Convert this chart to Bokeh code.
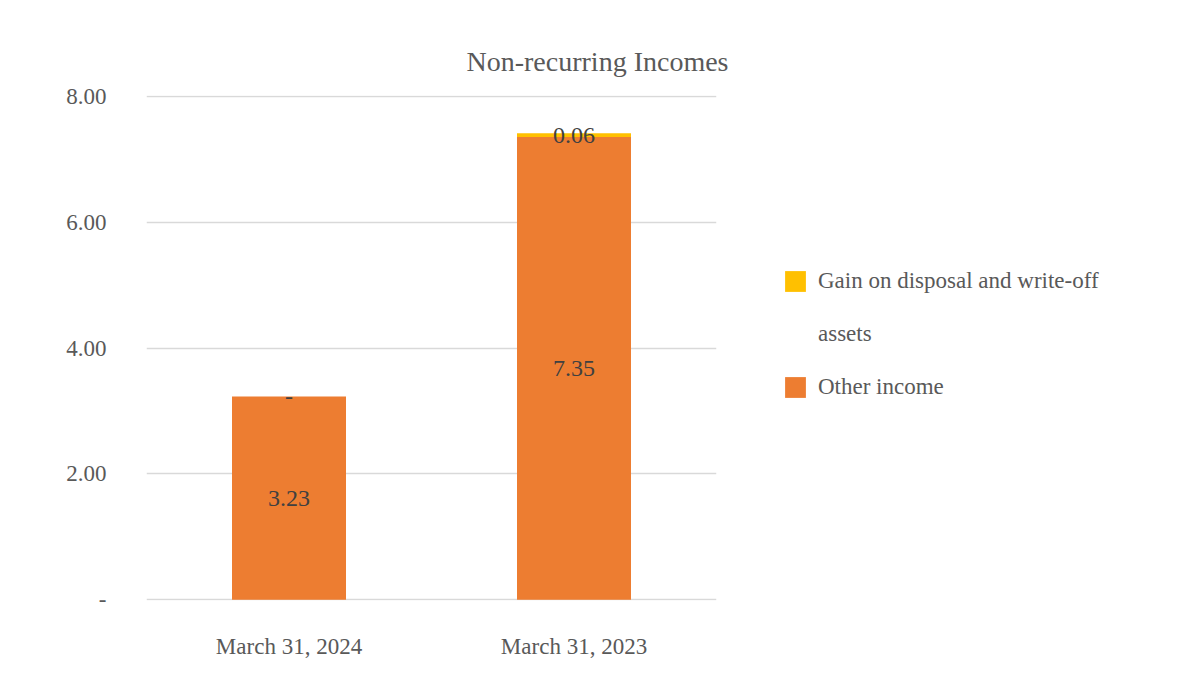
from bokeh.plotting import figure
from bokeh.models import (ColumnDataSource, Legend, LegendItem, FixedTicker,
                          CustomJSTickFormatter, Range1d, LabelSet, Title)
from bokeh.core.properties import value
from bokeh.embed import file_html
from bokeh.resources import INLINE

# ---- data ----
periods = ["March 31, 2024", "March 31, 2023"]
other_income = [3.23, 7.35]
gain_disposal = [0.0, 0.06]
title_text = "Non-recurring Incomes"
y_ticks = [0, 2, 4, 6, 8]

ORANGE = "#ED7D31"
YELLOW = "#FFC000"
TEXT = "#595959"
FONT = "Liberation Serif"

src = ColumnDataSource(dict(period=periods, other=other_income, gain=gain_disposal))

p = figure(x_range=periods, y_range=Range1d(-0.01, 8.01),
           frame_width=570, frame_height=505,
           output_backend="svg", toolbar_location=None,
           min_border_left=146, min_border_top=95, min_border_bottom=71,
           min_border_right=461)
p.outline_line_color = None
p.background_fill_color = "white"
p.border_fill_color = "white"

rs = p.vbar_stack(["other", "gain"], x="period", width=0.4, source=src,
                  color=[ORANGE, YELLOW], line_color=None)

# value labels, centred in each segment
lab_x, lab_y, lab_t = [], [], []
for i, per in enumerate(periods):
    b = 0.0
    for v in (other_income[i], gain_disposal[i]):
        lab_x.append(per)
        lab_y.append(b + v / 2)
        lab_t.append("-" if v == 0 else f"{v:.2f}")
        b += v
lsrc = ColumnDataSource(dict(x=lab_x, y=lab_y, t=lab_t))
p.add_layout(LabelSet(x="x", y="y", text="t", source=lsrc, text_align="center",
                      text_baseline="middle", text_font=value(FONT),
                      text_font_size="24px", text_color="#404040"))

# axes
p.yaxis.ticker = FixedTicker(ticks=y_ticks)
p.yaxis.formatter = CustomJSTickFormatter(code='return tick == 0 ? "-" : tick.toFixed(2);')
for ax in (p.xaxis[0], p.yaxis[0]):
    ax.axis_line_color = None
    ax.major_tick_line_color = None
    ax.minor_tick_line_color = None
    ax.major_label_text_font = FONT
    ax.major_label_text_color = TEXT
p.yaxis.major_label_text_font_size = "23px"
p.yaxis.major_label_standoff = 34
p.xaxis.major_label_text_font_size = "23px"
p.xaxis.major_label_standoff = 27

p.xgrid.grid_line_color = None
p.ygrid.grid_line_color = "#d9d9d9"
p.ygrid.grid_line_width = 1.3

# title, centred over the whole chart area
p.add_layout(Title(text=title_text, align="left", offset=320, standoff=38,
                   text_font=FONT, text_font_size="28px", text_font_style="normal",
                   text_color=TEXT), "above")

# legend (long label wrapped onto a second row)
blank = p.vbar(x=[], top=[], width=0.4, fill_alpha=0, line_alpha=0)
legend = Legend(items=[
    LegendItem(label="Gain on disposal and write-off", renderers=[rs[1]]),
    LegendItem(label="assets", renderers=[blank]),
    LegendItem(label="Other income", renderers=[rs[0]]),
], location=(66, 200), padding=0, margin=0, spacing=27,
   glyph_width=26, glyph_height=26, label_height=21, label_standoff=10,
   border_line_color=None, background_fill_alpha=0,
   label_text_font=FONT, label_text_font_size="23px", label_text_color=TEXT)
p.add_layout(legend, "right")

open("out.html", "w").write(file_html(p, INLINE))
